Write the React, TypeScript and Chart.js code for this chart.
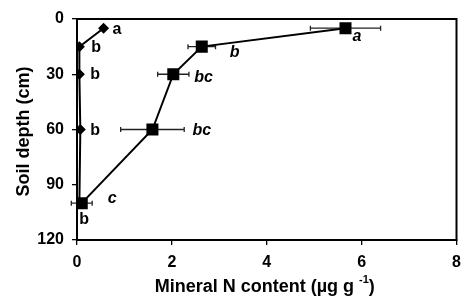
import React, { useEffect, useRef } from 'react';
import { Chart, registerables } from 'chart.js';

Chart.register(...registerables);

// ---- data ----
const depths = [5, 15, 30, 60, 100];
const controlN = [0.56, 0.05, 0.05, 0.07, 0.05];
const treatedN = [5.66, 2.63, 2.03, 1.59, 0.1];
const treatedErr = [0.74, 0.29, 0.33, 0.67, 0.22];
const controlLetters = ['a', 'b', 'b', 'b', 'b'];
const treatedLetters = ['a', 'b', 'bc', 'bc', 'c'];
const xTicks = [0, 2, 4, 6, 8];
const yTicks = [0, 30, 60, 90, 120];
const yTitle = 'Soil depth (cm)';
const xTitleMain = 'Mineral N content (µg g ';
const xTitleSup = '-1';
const xTitleEnd = ')';

// ---- label placement (px offsets from the point) ----
const controlLabelOffsets = [[9, 1], [12, 1], [11, 0], [10, 1], [0, 16]];
const treatedLabelOffsets = [[7, 8], [28, 6], [21, 3], [40, 1], [26, -5]];

const FONT = '"Liberation Sans", Arial, sans-serif';

const decorPlugin = {
  id: 'decor',
  beforeDatasetsDraw(chart: any) {
    const { ctx, scales } = chart;
    const xs = scales.x;
    const ys = scales.y;
    ctx.save();
    ctx.strokeStyle = '#222';
    ctx.lineWidth = 1.3;
    treatedN.forEach((v, i) => {
      const y = ys.getPixelForValue(depths[i]);
      const x1 = xs.getPixelForValue(v - treatedErr[i]);
      const x2 = xs.getPixelForValue(v + treatedErr[i]);
      ctx.beginPath();
      ctx.moveTo(x1, y);
      ctx.lineTo(x2, y);
      ctx.moveTo(x1, y - 2.5);
      ctx.lineTo(x1, y + 2.5);
      ctx.moveTo(x2, y - 2.5);
      ctx.lineTo(x2, y + 2.5);
      ctx.stroke();
    });
    ctx.restore();
  },
  afterDraw(chart: any) {
    const { ctx, chartArea, scales } = chart;
    const xs = scales.x;
    const ys = scales.y;
    ctx.save();
    // frame
    ctx.strokeStyle = '#000';
    ctx.lineWidth = 2;
    ctx.strokeRect(chartArea.left, chartArea.top, chartArea.right - chartArea.left, chartArea.bottom - chartArea.top);

    // letters
    ctx.fillStyle = '#000';
    ctx.textBaseline = 'middle';
    ctx.textAlign = 'left';
    ctx.font = `bold 16px ${FONT}`;
    controlLetters.forEach((t, i) => {
      const x = xs.getPixelForValue(controlN[i]);
      const y = ys.getPixelForValue(depths[i]);
      ctx.fillText(t, x + controlLabelOffsets[i][0], y + controlLabelOffsets[i][1]);
    });
    ctx.font = `italic bold 16px ${FONT}`;
    treatedLetters.forEach((t, i) => {
      const x = xs.getPixelForValue(treatedN[i]);
      const y = ys.getPixelForValue(depths[i]);
      ctx.fillText(t, x + treatedLabelOffsets[i][0], y + treatedLabelOffsets[i][1]);
    });

    // y title
    ctx.save();
    ctx.translate(24, (chartArea.top + chartArea.bottom) / 2 + 2);
    ctx.rotate(-Math.PI / 2);
    ctx.textAlign = 'center';
    ctx.font = `bold 18px ${FONT}`;
    ctx.fillText(yTitle, 0, 0);
    ctx.restore();

    // x title with superscript
    ctx.font = `bold 18px ${FONT}`;
    const w1 = ctx.measureText(xTitleMain).width;
    const w3 = ctx.measureText(xTitleEnd).width;
    ctx.font = `bold 11px ${FONT}`;
    const w2 = ctx.measureText(xTitleSup).width;
    const total = w1 + w2 + w3;
    const cx = (chartArea.left + chartArea.right) / 2 - 2;
    const ty = 287;
    let sx = cx - total / 2;
    ctx.textAlign = 'left';
    ctx.font = `bold 18px ${FONT}`;
    ctx.fillText(xTitleMain, sx, ty);
    sx += w1;
    ctx.font = `bold 11px ${FONT}`;
    ctx.fillText(xTitleSup, sx, ty - 7);
    sx += w2;
    ctx.font = `bold 18px ${FONT}`;
    ctx.fillText(xTitleEnd, sx, ty);
    ctx.restore();
  },
};

export default function App() {
  const ref = useRef<HTMLCanvasElement | null>(null);
  useEffect(() => {
    if (!ref.current) return;
    const chart = new Chart(ref.current, {
      type: 'scatter',
      data: {
        datasets: [
          {
            label: 'Control',
            data: depths.map((d, i) => ({ x: controlN[i], y: d })),
            showLine: true,
            borderColor: '#000',
            backgroundColor: '#000',
            borderWidth: 2,
            pointStyle: 'rectRot',
            pointRadius: 5.5,
            pointBorderWidth: 0,
          },
          {
            label: 'Treated',
            data: depths.map((d, i) => ({ x: treatedN[i], y: d })),
            showLine: true,
            borderColor: '#000',
            backgroundColor: '#000',
            borderWidth: 2,
            pointStyle: 'rect',
            pointRadius: 8.5,
            pointBorderWidth: 0,
          },
        ],
      },
      options: {
        animation: false,
        responsive: true,
        maintainAspectRatio: false,
        layout: { padding: { top: 19, right: 6, left: 0, bottom: 0 } },
        plugins: { legend: { display: false }, tooltip: { enabled: false } },
        scales: {
          x: {
            type: 'linear',
            min: 0,
            max: 8,
            afterBuildTicks: (s: any) => {
              s.ticks = xTicks.map((v) => ({ value: v }));
            },
            afterFit: (s: any) => {
              s.height = 56;
              s.paddingLeft = 0;
              s.paddingRight = 0;
            },
            grid: { drawOnChartArea: false, drawTicks: true, tickLength: 5, color: '#000', lineWidth: 1.3 },
            border: { display: true, color: '#000', width: 2 },
            ticks: { color: '#000', font: { family: FONT, size: 16, weight: 'bold' }, padding: 8, maxRotation: 0 },
          },
          y: {
            type: 'linear',
            reverse: true,
            min: 0,
            max: 120,
            afterBuildTicks: (s: any) => {
              s.ticks = yTicks.map((v) => ({ value: v }));
            },
            afterFit: (s: any) => {
              s.width = 77;
              s.paddingTop = 0;
              s.paddingBottom = 0;
            },
            grid: { drawOnChartArea: false, drawTicks: true, tickLength: 5, color: '#000', lineWidth: 1.3 },
            border: { display: true, color: '#000', width: 2 },
            ticks: { color: '#000', font: { family: FONT, size: 16, weight: 'bold' }, padding: 8 },
          },
        },
      },
      plugins: [decorPlugin],
    });
    return () => chart.destroy();
  }, []);
  return (
    <div style={{ position: 'absolute', left: 0, top: 0, width: 465, height: 296, background: '#fff' }}>
      <canvas ref={ref} />
    </div>
  );
}
